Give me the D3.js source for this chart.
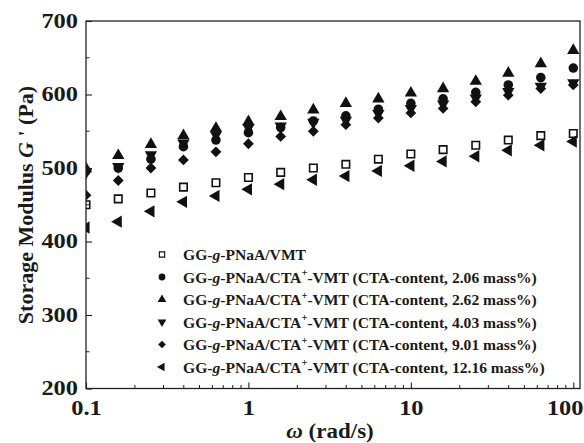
<!DOCTYPE html>
<html>
<head>
<meta charset="utf-8">
<style>
    body { margin: 0; background: #fff; }
    svg { display: block; }
    text { font-family: "Liberation Serif", "Times New Roman", serif; font-weight: bold; fill: #1a1a1a; }
</style>
</head>
<body>
<svg width="584" height="443"></svg>
<script src="https://d3js.org/d3.v7.min.js"></script>
<script>
    // angular frequency (rad/s)
    let omega = [0.1, 0.158, 0.251, 0.398, 0.631, 1, 1.58, 2.51, 3.98, 6.31, 10, 15.8, 25.1, 39.8, 63.1, 100]

    // storage modulus G' (Pa), one array per sample
    let gVMT = [450, 458, 466, 474, 480, 487, 494, 500, 505, 512, 519, 525, 531, 538, 544, 547]
    let gCTA206 = [496, 500, 512, 529, 538, 548, 555, 564, 571, 580, 588, 594, 603, 613, 623, 636]
    let gCTA262 = [499, 517, 532, 544, 554, 563, 570, 579, 588, 594, 602, 608, 618, 629, 642, 660]
    let gCTA403 = [494, 502, 518, 534, 545, 555, 557, 562, 565, 574, 581, 587, 595, 604, 611, 616]
    let gCTA901 = [463, 483, 500, 511, 522, 533, 543, 550, 559, 568, 575, 581, 590, 599, 608, 613]
    let gCTA1216 = [419, 427, 441, 454, 462, 471, 478, 484, 489, 496, 503, 509, 516, 524, 531, 536]

    let contents = [null, "2.06", "2.62", "4.03", "9.01", "12.16"]
    let yTicks = [200, 300, 400, 500, 600, 700]
    let xTicks = [0.1, 1, 10, 100]

    let series = [
        { values: gVMT, shape: "square" },
        { values: gCTA206, shape: "circle" },
        { values: gCTA262, shape: "up" },
        { values: gCTA403, shape: "down" },
        { values: gCTA901, shape: "diamond" },
        { values: gCTA1216, shape: "left" }
    ]

    let svg = d3.select("svg")
    let pLeft = 86, pRight = 580, pTop = 21, pBottom = 388.5

    let x = d3.scaleLog().domain([0.1, 110]).range([pLeft, pRight])
    let y = d3.scaleLinear().domain([200, 700]).range([pBottom, pTop])

    // marker drawing
    function marker(sel, shape, k) {
        let type = d3.symbolTriangle, rot = 0, size = 66
        if (shape == "square") { type = d3.symbolSquare; size = 56 }
        if (shape == "circle") { type = d3.symbolCircle; size = 72 }
        if (shape == "diamond") { type = d3.symbolSquare; size = 58; rot = 45 }
        if (shape == "down") rot = 180
        if (shape == "left") rot = -90
        sel.append("path")
            .attr("d", d3.symbol().type(type).size(size * k))
            .attr("transform", "rotate(" + rot + ")")
            .style("fill", shape == "square" ? "none" : "#111")
            .style("stroke", shape == "square" ? "#111" : "none")
            .style("stroke-width", shape == "square" ? 1.6 * Math.sqrt(k) : 0)
    }

    svg.append("clipPath").attr("id", "clip")
        .append("rect").attr("x", pLeft).attr("y", pTop)
        .attr("width", pRight - pLeft).attr("height", pBottom - pTop)

    let plot = svg.append("g").attr("clip-path", "url(#clip)")

    series.forEach(s => {
        s.values.forEach((v, i) => {
            let g = plot.append("g")
                .attr("transform", "translate(" + x(omega[i]) + "," + y(v) + ")")
            marker(g, s.shape, 1)
        })
    })

    // frame
    svg.append("rect")
        .attr("x", pLeft).attr("y", pTop)
        .attr("width", pRight - pLeft).attr("height", pBottom - pTop)
        .style("fill", "none").style("stroke", "#222").style("stroke-width", 1.3)

    // x axis (ticks inward)
    let xAxis = svg.append("g").attr("transform", "translate(0," + pBottom + ")")
        .call(d3.axisBottom(x).tickValues(xTicks).tickSize(-6).tickPadding(12).tickFormat(d3.format("~g")))
    let minorX = []
    for (let dec = 0.1; dec < 100; dec *= 10) {
        for (let m = 2; m <= 9; m++) minorX.push(dec * m)
    }
    xAxis.selectAll(".minor").data(minorX).join("line")
        .attr("x1", d => x(d)).attr("x2", d => x(d))
        .attr("y1", 0).attr("y2", -3.5)
        .style("stroke", "#222").style("stroke-width", 1)

    let yAxis = svg.append("g").attr("transform", "translate(" + pLeft + ",0)")
        .call(d3.axisLeft(y).tickValues(yTicks).tickSize(-6).tickPadding(8))
    yAxis.selectAll(".minor").data([250, 350, 450, 550, 650]).join("line")
        .attr("x1", 0).attr("x2", 3.5)
        .attr("y1", d => y(d)).attr("y2", d => y(d))
        .style("stroke", "#222").style("stroke-width", 1)

    svg.selectAll(".domain").remove()
    svg.selectAll(".tick line").style("stroke", "#222").style("stroke-width", 1.1)
    svg.selectAll(".tick text")
        .style("font-family", "'Liberation Serif', serif")
        .style("font-weight", "bold")
        .style("font-size", "20px")
        .style("fill", "#1a1a1a")
    // last x label sits against the right edge
    xAxis.selectAll(".tick text").filter(d => d == 100)
        .attr("text-anchor", "end").attr("x", 583 - x(100))
    // the figure's numbers are a little wide: stretch them sideways
    svg.selectAll(".tick text").each(function () {
        let t = d3.select(this)
        let tx = +t.attr("x") || 0
        t.attr("x", 0).attr("transform", "translate(" + tx + ",0) scale(1.22,1)")
    })

    // axis titles
    let xt = svg.append("text")
        .attr("transform", "translate(330,438) scale(1.15,1)")
        .attr("text-anchor", "middle")
        .style("font-size", "20px")
    xt.append("tspan").style("font-style", "italic").text("ω")
    xt.append("tspan").text(" (rad/s)")

    let yt = svg.append("text")
        .attr("transform", "translate(33,205) rotate(-90)")
        .attr("text-anchor", "middle")
        .style("font-size", "22px")
    yt.append("tspan").text("Storage Modulus ")
    yt.append("tspan").style("font-style", "italic").text("G")
    yt.append("tspan").text(" ' (Pa)")

    // legend
    let legend = svg.append("g")
    contents.forEach((c, i) => {
        let row = legend.append("g")
            .attr("transform", "translate(0," + (254.5 + i * 22.5) + ")")
        let m = row.append("g").attr("transform", "translate(162,0)")
        marker(m, series[i].shape, 0.5)
        let t = row.append("text").attr("x", 183).attr("y", 5.5)
            .style("font-size", "15.6px")
        t.append("tspan").text("GG-")
        t.append("tspan").style("font-style", "italic").text("g")
        if (c == null) {
            t.append("tspan").text("-PNaA/VMT")
        } else {
            t.append("tspan").text("-PNaA/CTA")
            t.append("tspan").attr("dy", -6.5).style("font-size", "10.5px").text("+")
            t.append("tspan").attr("dy", 6.5).text("-VMT (CTA-content, " + c + " mass%)")
        }
    })
</script>
</body>
</html>
